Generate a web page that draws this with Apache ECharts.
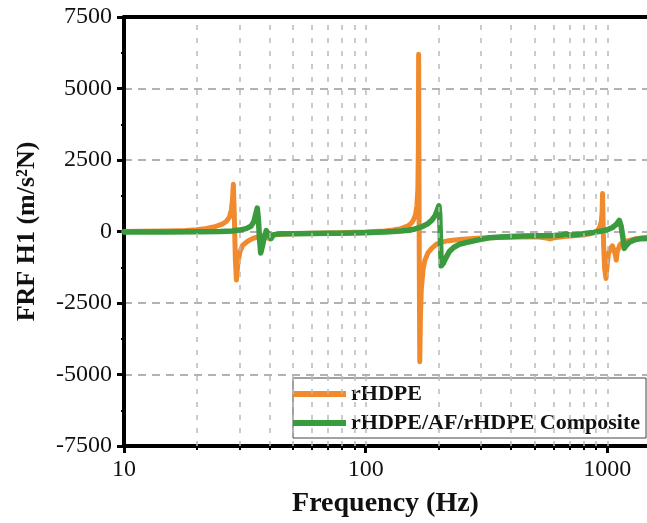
<!DOCTYPE html>
<html><head><meta charset="utf-8">
<script src="https://cdn.jsdelivr.net/npm/echarts@6/dist/echarts.min.js"></script>
<style>html,body{margin:0;padding:0;background:#fff}#c{width:647px;height:523px}</style>
</head><body><div id="c"></div>
<script>
// rHDPE
const freqHDPE = [10,12,15,18,20,22,24,25.5,26.5,27.3,27.8,28.1,28.35,28.6,28.9,29.2,29.6,30.2,31,32.5,34,36,38,40,41,45,50,60,70,80,90,100,110,120,130,140,150,155,158,161,163,164.5,165.3,165.7,166.2,166.8,167.5,168.5,170,173,176,181,188,196,205,220,245,270,300,350,400,450,520,560,580,600,650,700,750,800,850,880,910,930,945,952,956,960,966,975,988,998,1010,1030,1050,1069,1080,1089,1100,1130,1180,1233,1300,1400,1470];
const valHDPE  = [0,5,15,35,60,110,180,260,350,500,750,1100,1650,600,-1000,-1700,-1100,-700,-480,-340,-250,-180,-160,-250,-120,-100,-80,-60,-50,-40,-30,-20,0,20,50,100,200,300,420,600,900,1500,3000,6200,2000,-1500,-4550,-3000,-2000,-1300,-1000,-750,-580,-450,-380,-320,-280,-250,-230,-210,-200,-190,-190,-230,-260,-220,-180,-160,-140,-110,-80,-40,30,150,350,700,1330,500,-500,-1300,-1640,-1200,-800,-600,-500,-560,-800,-1000,-700,-450,-350,-310,-260,-220,-200];
// rHDPE/AF/rHDPE Composite
const freqComp = [10,15,20,25,28,30,32,33.5,34.5,35.2,35.6,36,36.4,36.8,37.4,38.2,38.8,39.4,40,40.6,41.5,43,46,50,60,70,80,90,100,110,120,130,140,150,160,170,180,188,194,198,201,202.5,204,205.5,207,210,214,222,232,244,260,290,325,360,400,450,520,600,650,677,700,760,820,880,950,1000,1050,1090,1121,1140,1160,1175,1200,1233,1300,1380,1470];
const valComp  = [-20,-15,-10,0,20,50,100,180,350,650,820,400,-300,-750,-500,-150,30,80,-150,-250,-120,-90,-80,-80,-70,-65,-60,-55,-45,-30,-15,0,20,45,90,160,260,400,560,750,900,600,-300,-1200,-1250,-1100,-950,-700,-550,-450,-390,-300,-220,-190,-175,-160,-150,-140,-120,-80,-130,-100,-60,-30,20,60,140,250,390,200,-200,-590,-480,-380,-290,-250,-240];

const seriesNames = ['rHDPE', 'rHDPE/AF/rHDPE Composite'];
const xLabelValues = [10, 100, 1000];
const xMinorValues = [20,30,40,50,60,70,80,90,200,300,400,500,600,700,800,900];
const xGridValues = [20,30,40,50,60,70,80,90,100,200,300,400,500,600,700,800,900,1000];

const FONT = 'Liberation Serif';
const chart = echarts.init(document.getElementById('c'), null, {renderer: 'canvas'});
const pair = (xs, ys) => xs.map((x, i) => [x, ys[i]]);

chart.setOption({
  animation: false,
  backgroundColor: '#fff',
  grid: {left: 124, top: 17, right: 0, bottom: 76, containLabel: false},
  legend: {
    data: seriesNames,
    orient: 'vertical', left: 293, top: 378,
    padding: [5, 6, 4, 0], itemGap: 7, itemWidth: 53, itemHeight: 6,
    icon: 'rect', borderColor: '#444', borderWidth: 1, backgroundColor: '#fff',
    textStyle: {fontFamily: FONT, fontWeight: 'bold', fontSize: 22, color: '#111'}
  },
  xAxis: [
    {
      type: 'log', logBase: 10, min: 10, max: 1460, position: 'bottom',
      name: 'Frequency (Hz)', nameLocation: 'middle', nameGap: 44,
      nameTextStyle: {fontFamily: FONT, fontWeight: 'bold', fontSize: 28, color: '#111'},
      axisLine: {show: true, onZero: false, lineStyle: {color: '#000', width: 4}},
      axisTick: {show: true, customValues: xLabelValues, length: 7, lineStyle: {color: '#000', width: 3}},
      axisLabel: {customValues: xLabelValues, formatter: v => String(v), fontFamily: FONT, fontSize: 24, color: '#111', margin: 12},
      splitLine: {show: false}
    },
    {
      type: 'log', logBase: 10, min: 10, max: 1460, position: 'bottom',
      axisLine: {show: false, onZero: false},
      axisTick: {show: true, customValues: xMinorValues, length: 4, lineStyle: {color: '#000', width: 2}},
      axisLabel: {show: false},
      splitLine: {show: false}
    },
    {
      type: 'log', logBase: 10, min: 10, max: 1460, position: 'top',
      axisLine: {show: true, onZero: false, lineStyle: {color: '#000', width: 4}},
      axisTick: {show: false}, axisLabel: {show: false}, splitLine: {show: false}
    }
  ],
  yAxis: {
    type: 'value', min: -7500, max: 7500, interval: 2500,
    name: 'FRF H1 (m/s²N)', nameLocation: 'middle', nameGap: 84,
    nameTextStyle: {fontFamily: FONT, fontWeight: 'bold', fontSize: 26, color: '#111'},
    axisLine: {show: true, onZero: false, lineStyle: {color: '#000', width: 4}},
    axisTick: {show: true, length: 7, lineStyle: {color: '#000', width: 3}},
    minorTick: {show: true, splitNumber: 2, length: 3, lineStyle: {color: '#000', width: 2}},
    axisLabel: {formatter: v => String(v), fontFamily: FONT, fontSize: 24, color: '#111', margin: 12},
    splitLine: {show: true, lineStyle: {color: '#999', width: 1.5, type: [8, 6]}}
  },
  series: [
    {
      name: 'gridlines', type: 'line', data: [], z: 1, silent: true,
      markLine: {
        silent: true, symbol: 'none', label: {show: false}, animation: false,
        lineStyle: {color: '#bbb', width: 1.5, type: [5, 8]},
        data: xGridValues.map(v => ({xAxis: v}))
      }
    },
    {
      name: seriesNames[0], type: 'line', z: 3, showSymbol: false, symbol: 'none',
      data: pair(freqHDPE, valHDPE),
      itemStyle: {color: '#f08a2c'},
      lineStyle: {color: '#f08a2c', width: 5, join: 'round', cap: 'round'}
    },
    {
      name: seriesNames[1], type: 'line', z: 4, showSymbol: false, symbol: 'none',
      data: pair(freqComp, valComp),
      itemStyle: {color: '#3a9a3e'},
      lineStyle: {color: '#3a9a3e', width: 5.5, join: 'round', cap: 'round'}
    }
  ]
});
</script>
</body></html>
